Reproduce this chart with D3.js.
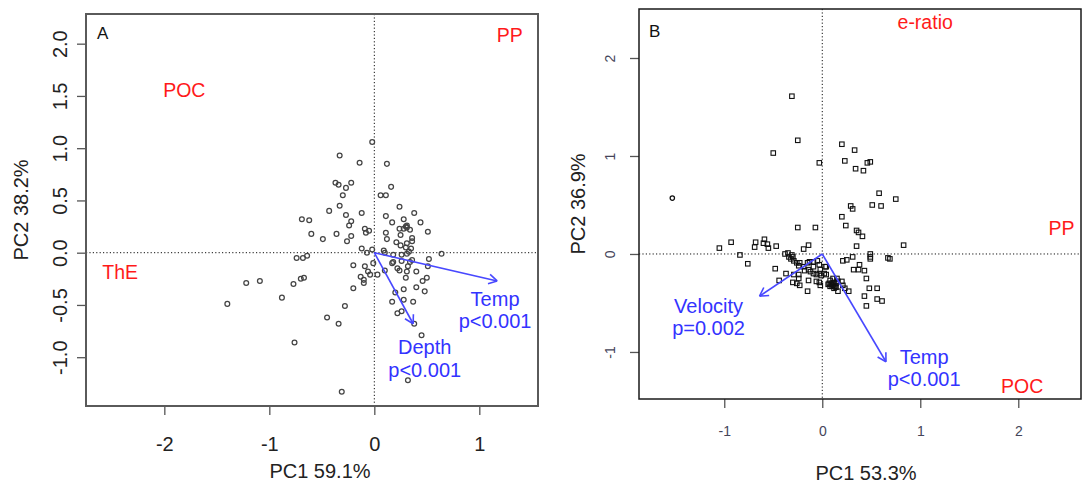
<!DOCTYPE html>
<html>
<head>
<meta charset="utf-8">
<script src="https://cdn.jsdelivr.net/npm/d3@7"></script>
<style>
  html, body { margin: 0; padding: 0; background: #fff; }
  svg { display: block; font-family: "Liberation Sans", Arial, sans-serif; }
</style>
</head>
<body>
<svg id="chart" width="1083" height="485"></svg>
<script>
// ---- Panel A: site scores (PC1, PC2) ----
const scoresA_x = [-0.02,-0.33,-0.14,0.12,-0.37,-0.34,-0.22,-0.27,0.16,-0.30,0.06,0.11,-0.33,-0.43,0.24,0.38,
  -0.12,-0.27,0.11,-0.69,-0.62,-0.22,-0.24,0.28,0.17,0.44,0.30,0.31,0.24,0.34,0.51,-0.60,-0.49,-0.36,-0.09,
  -0.05,-0.08,0.11,-0.22,-0.26,0.25,0.36,0.36,0.31,0.12,0.21,0.25,0.30,0.35,0.33,-0.12,-0.07,-0.02,0.09,0.10,
  0.18,0.26,0.31,0.64,-0.74,-0.68,-0.64,-0.01,0.18,0.17,0.26,0.36,0.34,0.52,-0.20,-0.09,-0.06,-0.04,0.03,0.10,
  0.22,0.24,0.32,0.31,0.40,0.51,-0.13,-0.10,-0.10,0.30,0.50,0.46,-0.20,0.20,0.28,0.40,0.48,0.28,0.37,0.17,
  -0.28,-0.45,-0.34,0.26,0.22,0.38,0.45,-0.76,0.32,-0.31,-1.22,-1.09,-0.77,-0.70,-0.67,-0.88,-1.40,0.31,0.28];
const scoresA_y = [1.06,0.93,0.86,0.85,0.67,0.65,0.67,0.62,0.63,0.55,0.55,0.55,0.45,0.40,0.44,0.38,
  0.38,0.36,0.35,0.32,0.31,0.30,0.26,0.32,0.29,0.29,0.25,0.24,0.23,0.22,0.20,0.18,0.13,0.18,0.23,
  0.21,0.19,0.19,0.16,0.11,0.17,0.14,0.11,0.09,0.13,0.10,0.07,0.05,0.04,0.01,0.04,0.00,0.03,0.02,0.00,
  -0.02,-0.02,-0.01,-0.01,-0.05,-0.05,-0.03,-0.10,-0.09,-0.10,-0.08,-0.07,-0.09,-0.06,-0.12,-0.13,-0.18,-0.21,-0.21,-0.17,
  -0.15,-0.17,-0.13,-0.18,-0.18,-0.13,-0.23,-0.26,-0.29,-0.24,-0.24,-0.27,-0.34,-0.38,-0.35,-0.33,-0.37,-0.45,-0.47,-0.47,
  -0.51,-0.62,-0.68,-0.56,-0.58,-0.68,-0.79,-0.86,-1.22,-1.33,-0.29,-0.27,-0.30,-0.25,-0.24,-0.43,-0.49,0.26,0.23];

// Panel A: fitted environmental vectors
const vecA_names = ["Temp", "Depth"];
const vecA_x = [1.17, 0.37];
const vecA_y = [-0.27, -0.68];
const vecA_p = ["p<0.001", "p<0.001"];
const vecA_lx = [1.15, 0.48];
const vecA_ly = [-0.51, -0.97];

// Panel A: supplementary variable labels
const suppA_names = ["POC", "PP", "ThE"];
const suppA_x = [-1.81, 1.29, -2.42];
const suppA_y = [1.56, 2.08, -0.18];

// ---- Panel B: site scores (PC1, PC2) ----
const scoresB_x = [-1.53,-0.31,-0.25,-0.50,-0.03,0.20,0.33,0.23,0.34,0.42,0.46,0.49,0.58,0.75,0.29,0.31,0.51,0.60,
  0.20,0.24,0.35,0.37,0.41,-0.25,-0.07,-0.93,-1.05,-0.68,-0.69,-0.59,-0.60,-0.56,-0.55,-0.47,-0.14,-0.19,0.35,0.83,
  -0.84,-0.76,0.49,0.49,0.49,0.67,0.69,0.31,0.21,0.25,0.38,0.32,0.37,0.43,0.04,0.45,0.48,0.56,0.43,0.56,0.61,0.45,
  -0.48,-0.37,-0.44,-0.29,-0.24,-0.30,-0.26,-0.23,-0.24,-0.14,-0.15,-0.06,-0.03,-0.02,0.08,0.11,0.15,0.16,0.20,0.21,
  0.23,0.27,0.06,0.09,0.11,0.08,0.13,0.16,0.12,
  -0.38,-0.35,-0.31,-0.34,-0.30,-0.32,-0.29,-0.26,-0.24,-0.23,-0.19,-0.15,-0.13,-0.09,-0.05,-0.18,-0.14,-0.12,-0.09,
  -0.06,-0.03,-0.01,0.02,0.04,-0.02,0.03,-0.03,-0.09,0.10,0.12,0.14,0.10,0.14,0.07];
const scoresB_y = [0.57,1.61,1.16,1.03,0.93,1.12,1.06,0.95,0.87,0.85,0.93,0.94,0.62,0.56,0.49,0.46,0.50,0.49,
  0.38,0.29,0.24,0.22,0.18,0.27,0.27,0.12,0.06,0.12,0.07,0.15,0.11,0.10,0.06,0.08,0.09,0.05,0.08,0.09,
  -0.01,-0.10,0.00,-0.03,-0.05,-0.04,-0.05,-0.03,-0.07,-0.06,-0.11,-0.16,-0.16,-0.17,-0.13,-0.25,-0.35,-0.35,-0.43,-0.46,-0.48,-0.53,
  -0.15,-0.20,-0.27,-0.21,-0.21,-0.29,-0.30,-0.32,-0.25,-0.27,-0.38,-0.28,-0.29,-0.32,-0.27,-0.25,-0.25,-0.28,-0.28,-0.32,
  -0.35,-0.38,-0.31,-0.31,-0.32,-0.33,-0.33,-0.38,-0.35,
  0.00,0.01,-0.01,-0.03,-0.03,-0.05,-0.07,-0.09,-0.12,-0.09,-0.13,-0.09,-0.08,-0.08,-0.07,-0.17,-0.16,-0.18,-0.20,
  -0.21,-0.20,-0.22,-0.20,-0.21,-0.16,-0.13,-0.11,-0.13,-0.30,-0.29,-0.30,-0.33,-0.34,-0.30];
// first site in panel B is drawn as a circle, the rest as squares
const shapeB = scoresB_x.map((d, i) => i === 0 ? "circle" : "square");

// Panel B: fitted environmental vectors
const vecB_names = ["Velocity", "Temp"];
const vecB_x = [-0.64, 0.65];
const vecB_y = [-0.43, -1.10];
const vecB_p = ["p=0.002", "p<0.001"];
const vecB_lx = [-1.16, 1.04];
const vecB_ly = [-0.60, -1.12];

// Panel B: supplementary variable labels
const suppB_names = ["e-ratio", "PP", "POC"];
const suppB_x = [1.05, 2.44, 2.04];
const suppB_y = [2.37, 0.27, -1.35];

// Axis ticks and titles
const ticksA_x = [-2, -1, 0, 1];
const ticksA_y = [-1, -0.5, 0, 0.5, 1, 1.5, 2];
const ticksB_x = [-1, 0, 1, 2];
const ticksB_y = [-1, 0, 1, 2];
const titleA_x = "PC1 59.1%", titleA_y = "PC2 38.2%";
const titleB_x = "PC1 53.3%", titleB_y = "PC2 36.9%";

const svg = d3.select("#chart");
const RED = "#ff1a1a", BLUE_TXT = "#3333ff", BLUE_LINE = "#4848ff";

// tick formatters using a plain hyphen for negative values
const fmtInt = d => String(d);
const fmtOne = d => d.toFixed(1);

function arrow(g, x0, y0, x1, y1, color) {
  g.append("line").attr("x1", x0).attr("y1", y0).attr("x2", x1).attr("y2", y1)
    .attr("stroke", color).attr("stroke-width", 1.6);
  const ang = Math.atan2(y1 - y0, x1 - x0), L = 9.6, a = Math.PI / 6;
  [ang + Math.PI - a, ang + Math.PI + a].forEach(t => {
    g.append("line").attr("x1", x1).attr("y1", y1)
      .attr("x2", x1 + L * Math.cos(t)).attr("y2", y1 + L * Math.sin(t))
      .attr("stroke", color).attr("stroke-width", 1.6);
  });
}

function panel(cfg) {
  const g = svg.append("g");
  const x = d3.scaleLinear().domain(cfg.xdom).range([cfg.left, cfg.right]);
  const y = d3.scaleLinear().domain(cfg.ydom).range([cfg.bottom, cfg.top]);

  // zero reference lines
  g.append("line").attr("x1", cfg.left).attr("x2", cfg.right).attr("y1", y(0)).attr("y2", y(0))
    .attr("stroke", "#111").attr("stroke-width", 1).attr("stroke-dasharray", "1.2,2.2");
  g.append("line").attr("x1", x(0)).attr("x2", x(0)).attr("y1", cfg.top).attr("y2", cfg.bottom)
    .attr("stroke", "#111").attr("stroke-width", 1).attr("stroke-dasharray", "1.2,2.2");

  // axes
  const ax = g.append("g").attr("transform", `translate(0,${cfg.bottom})`)
    .call(d3.axisBottom(x).tickValues(cfg.tx).tickSize(cfg.tickLen).tickFormat(cfg.fx));
  const ay = g.append("g").attr("transform", `translate(${cfg.left},0)`)
    .call(d3.axisLeft(y).tickValues(cfg.ty).tickSize(cfg.tickLen).tickFormat(cfg.fy));
  [ax, ay].forEach(a => {
    a.select(".domain").remove();
    a.selectAll(".tick line").attr("stroke", cfg.tickColor).attr("stroke-width", 1.3);
    a.selectAll(".tick text").attr("fill", cfg.labColor).attr("font-size", cfg.labSize)
      .attr("font-family", "Liberation Sans, Arial, sans-serif");
  });
  ax.selectAll(".tick text").attr("y", cfg.xLabOff).attr("dy", 0);
  ay.selectAll(".tick text").attr("transform", "rotate(-90)").attr("x", 0)
    .attr("y", cfg.yLabOff).attr("dy", 0).attr("text-anchor", "middle");

  // frame
  g.append("rect").attr("x", cfg.left).attr("y", cfg.top)
    .attr("width", cfg.right - cfg.left).attr("height", cfg.bottom - cfg.top)
    .attr("fill", "none").attr("stroke", cfg.frameColor).attr("stroke-width", cfg.frameW);

  // titles
  g.append("text").attr("x", (cfg.left + cfg.right) / 2 + cfg.xTitleShift).attr("y", cfg.xTitleY)
    .attr("text-anchor", "middle").attr("font-size", 20).attr("fill", "#222").text(cfg.titleX);
  g.append("text").attr("transform", `translate(${cfg.yTitleX},${(cfg.top + cfg.bottom) / 2}) rotate(-90)`)
    .attr("text-anchor", "middle").attr("font-size", 20).attr("fill", "#222").text(cfg.titleY);
  g.append("text").attr("x", cfg.tagX).attr("y", cfg.tagY).attr("font-size", 17)
    .attr("fill", "#111").text(cfg.tag);

  // site scores
  const pts = cfg.sx.map((v, i) => ({ x: v, y: cfg.sy[i], s: cfg.shape ? cfg.shape[i] : "circle" }));
  g.append("g").selectAll("circle").data(pts.filter(d => d.s === "circle")).join("circle")
    .attr("cx", d => x(d.x)).attr("cy", d => y(d.y)).attr("r", cfg.r)
    .attr("fill", "none").attr("stroke", cfg.ptColor).attr("stroke-width", 1.25);
  g.append("g").selectAll("rect").data(pts.filter(d => d.s === "square")).join("rect")
    .attr("x", d => x(d.x) - cfg.sq / 2).attr("y", d => y(d.y) - cfg.sq / 2)
    .attr("width", cfg.sq).attr("height", cfg.sq)
    .attr("fill", "none").attr("stroke", cfg.ptColor).attr("stroke-width", 1.1);

  // environmental vectors
  cfg.vn.forEach((n, i) => {
    arrow(g, x(0), y(0), x(cfg.vx[i]), y(cfg.vy[i]), BLUE_LINE);
    const t = g.append("text").attr("x", x(cfg.vlx[i])).attr("y", y(cfg.vly[i]))
      .attr("text-anchor", "middle").attr("font-size", 20).attr("fill", BLUE_TXT);
    t.append("tspan").attr("x", x(cfg.vlx[i])).text(n);
    t.append("tspan").attr("x", x(cfg.vlx[i])).attr("dy", 22.5).text(cfg.vp[i]);
  });

  // supplementary labels
  cfg.supN.forEach((n, i) => {
    g.append("text").attr("x", x(cfg.supX[i])).attr("y", y(cfg.supY[i])).attr("dy", "0.36em")
      .attr("text-anchor", "middle").attr("font-size", 19.5).attr("fill", RED).text(n);
  });
}

panel({
  left: 86, right: 538, top: 14, bottom: 406,
  xdom: [-2.746, 1.559], ydom: [-1.467, 2.284],
  tx: ticksA_x, ty: ticksA_y, fx: fmtInt, fy: fmtOne,
  tickLen: 9, tickColor: "#555", labColor: "#222", labSize: 20, xLabOff: 45, yLabOff: -19,
  frameColor: "#5a5a5a", frameW: 2,
  titleX: titleA_x, titleY: titleA_y, xTitleShift: 8, xTitleY: 478, yTitleX: 28,
  tag: "A", tagX: 97, tagY: 39,
  sx: scoresA_x, sy: scoresA_y, r: 2.4, sq: 4.5, ptColor: "#444",
  vn: vecA_names, vx: vecA_x, vy: vecA_y, vp: vecA_p, vlx: vecA_lx, vly: vecA_ly,
  supN: suppA_names, supX: suppA_x, supY: suppA_y
});

panel({
  left: 639, right: 1081, top: 9, bottom: 399,
  xdom: [-1.870, 2.640], ydom: [-1.480, 2.5],
  tx: ticksB_x, ty: ticksB_y, fx: fmtInt, fy: fmtInt,
  tickLen: 9, tickColor: "#555", labColor: "#45455a", labSize: 14, xLabOff: 37, yLabOff: -24,
  frameColor: "#1a1a1a", frameW: 1.5,
  titleX: titleB_x, titleY: titleB_y, xTitleShift: 6, xTitleY: 480, yTitleX: 585,
  tag: "B", tagX: 649, tagY: 37,
  sx: scoresB_x, sy: scoresB_y, shape: shapeB, r: 2.2, sq: 4.5, ptColor: "#111",
  vn: vecB_names, vx: vecB_x, vy: vecB_y, vp: vecB_p, vlx: vecB_lx, vly: vecB_ly,
  supN: suppB_names, supX: suppB_x, supY: suppB_y
});
</script>
</body>
</html>
